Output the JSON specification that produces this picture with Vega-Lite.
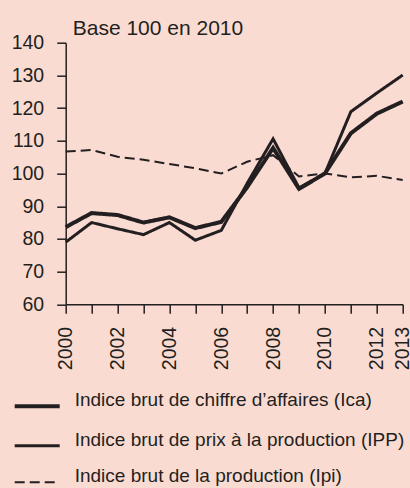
{
  "$schema": "https://vega.github.io/schema/vega-lite/v6.json",
  "autosize": {"type": "none"},
  "width": 337,
  "height": 261.6,
  "padding": {"left": 65.7, "top": 42.7, "right": 7.3, "bottom": 183.7},
  "background": "#fadbd2",
  "title": {
    "text": "Base 100 en 2010",
    "anchor": "start",
    "frame": "group",
    "dx": 7,
    "offset": -6,
    "font": "Liberation Sans",
    "fontSize": 21,
    "fontWeight": "normal",
    "color": "#231f20"
  },
  "data": {
    "values": [
      {"annee": 2000, "serie": "Indice brut de chiffre d’affaires (Ica)", "valeur": 83.6},
      {"annee": 2001, "serie": "Indice brut de chiffre d’affaires (Ica)", "valeur": 87.9},
      {"annee": 2002, "serie": "Indice brut de chiffre d’affaires (Ica)", "valeur": 87.3},
      {"annee": 2003, "serie": "Indice brut de chiffre d’affaires (Ica)", "valeur": 85.0},
      {"annee": 2004, "serie": "Indice brut de chiffre d’affaires (Ica)", "valeur": 86.6},
      {"annee": 2005, "serie": "Indice brut de chiffre d’affaires (Ica)", "valeur": 83.3},
      {"annee": 2006, "serie": "Indice brut de chiffre d’affaires (Ica)", "valeur": 85.2},
      {"annee": 2007, "serie": "Indice brut de chiffre d’affaires (Ica)", "valeur": 95.8},
      {"annee": 2008, "serie": "Indice brut de chiffre d’affaires (Ica)", "valeur": 107.8},
      {"annee": 2009, "serie": "Indice brut de chiffre d’affaires (Ica)", "valeur": 95.3},
      {"annee": 2010, "serie": "Indice brut de chiffre d’affaires (Ica)", "valeur": 100.0},
      {"annee": 2011, "serie": "Indice brut de chiffre d’affaires (Ica)", "valeur": 112.3},
      {"annee": 2012, "serie": "Indice brut de chiffre d’affaires (Ica)", "valeur": 118.3},
      {"annee": 2013, "serie": "Indice brut de chiffre d’affaires (Ica)", "valeur": 122.0},
      {"annee": 2000, "serie": "Indice brut de prix à la production (IPP)", "valeur": 79.0},
      {"annee": 2001, "serie": "Indice brut de prix à la production (IPP)", "valeur": 85.0},
      {"annee": 2002, "serie": "Indice brut de prix à la production (IPP)", "valeur": 83.1},
      {"annee": 2003, "serie": "Indice brut de prix à la production (IPP)", "valeur": 81.3},
      {"annee": 2004, "serie": "Indice brut de prix à la production (IPP)", "valeur": 85.0},
      {"annee": 2005, "serie": "Indice brut de prix à la production (IPP)", "valeur": 79.6},
      {"annee": 2006, "serie": "Indice brut de prix à la production (IPP)", "valeur": 82.6},
      {"annee": 2007, "serie": "Indice brut de prix à la production (IPP)", "valeur": 97.0},
      {"annee": 2008, "serie": "Indice brut de prix à la production (IPP)", "valeur": 110.6},
      {"annee": 2009, "serie": "Indice brut de prix à la production (IPP)", "valeur": 95.6},
      {"annee": 2010, "serie": "Indice brut de prix à la production (IPP)", "valeur": 100.0},
      {"annee": 2011, "serie": "Indice brut de prix à la production (IPP)", "valeur": 118.9},
      {"annee": 2012, "serie": "Indice brut de prix à la production (IPP)", "valeur": 124.6},
      {"annee": 2013, "serie": "Indice brut de prix à la production (IPP)", "valeur": 130.1},
      {"annee": 2000, "serie": "Indice brut de la production (Ipi)", "valeur": 106.7},
      {"annee": 2001, "serie": "Indice brut de la production (Ipi)", "valeur": 107.2},
      {"annee": 2002, "serie": "Indice brut de la production (Ipi)", "valeur": 105.1},
      {"annee": 2003, "serie": "Indice brut de la production (Ipi)", "valeur": 104.2},
      {"annee": 2004, "serie": "Indice brut de la production (Ipi)", "valeur": 102.9},
      {"annee": 2005, "serie": "Indice brut de la production (Ipi)", "valeur": 101.6},
      {"annee": 2006, "serie": "Indice brut de la production (Ipi)", "valeur": 100.0},
      {"annee": 2007, "serie": "Indice brut de la production (Ipi)", "valeur": 103.6},
      {"annee": 2008, "serie": "Indice brut de la production (Ipi)", "valeur": 105.6},
      {"annee": 2009, "serie": "Indice brut de la production (Ipi)", "valeur": 99.1},
      {"annee": 2010, "serie": "Indice brut de la production (Ipi)", "valeur": 100.0},
      {"annee": 2011, "serie": "Indice brut de la production (Ipi)", "valeur": 98.8},
      {"annee": 2012, "serie": "Indice brut de la production (Ipi)", "valeur": 99.3},
      {"annee": 2013, "serie": "Indice brut de la production (Ipi)", "valeur": 98.0}
    ]
  },
  "mark": {"type": "line", "strokeJoin": "miter", "strokeCap": "butt", "clip": false},
  "encoding": {
    "x": {
      "field": "annee",
      "type": "quantitative",
      "scale": {"domain": [2000, 2013], "nice": false, "zero": false},
      "axis": {
        "title": null,
        "values": [2000, 2001, 2002, 2003, 2004, 2005, 2006, 2007, 2008, 2009, 2010, 2011, 2012, 2013],
        "format": "d",
        "labelExpr": "(datum.value % 2 == 0 || datum.value == 2013) ? datum.label : ''",
        "labelAngle": -90,
        "labelAlign": "right",
        "labelBaseline": "middle",
        "labelOverlap": false,
        "labelPadding": 13,
        "labelFlush": false,
        "grid": false
      }
    },
    "y": {
      "field": "valeur",
      "type": "quantitative",
      "scale": {"domain": [60, 140], "nice": false, "zero": false},
      "axis": {
        "title": null,
        "values": [60, 70, 80, 90, 100, 110, 120, 130, 140],
        "labelPadding": 13,
        "labelFlush": false,
        "labelOverlap": false,
        "grid": false
      }
    },
    "stroke": {
      "field": "serie",
      "type": "nominal",
      "scale": {
        "domain": ["Indice brut de chiffre d’affaires (Ica)", "Indice brut de prix à la production (IPP)", "Indice brut de la production (Ipi)"],
        "range": ["#231f20", "#231f20", "#231f20"]
      },
      "legend": {"title": null}
    },
    "strokeWidth": {
      "field": "serie",
      "type": "nominal",
      "scale": {
        "domain": ["Indice brut de chiffre d’affaires (Ica)", "Indice brut de prix à la production (IPP)", "Indice brut de la production (Ipi)"],
        "range": [4, 2, 2.5]
      },
      "legend": {"title": null}
    },
    "strokeDash": {
      "field": "serie",
      "type": "nominal",
      "scale": {
        "domain": ["Indice brut de chiffre d’affaires (Ica)", "Indice brut de prix à la production (IPP)", "Indice brut de la production (Ipi)"],
        "range": [[1, 0], [1, 0], [10, 5]]
      },
      "legend": {"title": null}
    }
  },
  "config": {
    "view": {"stroke": null},
    "font": "Liberation Sans",
    "axis": {
      "domainColor": "#231f20",
      "domainWidth": 1.5,
      "tickColor": "#231f20",
      "tickWidth": 1.5,
      "tickSize": 9,
      "labelColor": "#231f20",
      "labelFont": "Liberation Sans",
      "labelFontSize": 19.5
    },
    "legend": {
      "orient": "none",
      "legendX": -53,
      "legendY": 339,
      "direction": "vertical",
      "padding": 0,
      "symbolType": "stroke",
      "symbolSize": 2025,
      "symbolStrokeColor": "#231f20",
      "rowPadding": 7,
      "labelOffset": 13,
      "labelBaseline": "alphabetic",
      "labelFont": "Liberation Sans",
      "labelFontSize": 19,
      "labelColor": "#231f20",
      "labelLimit": 400
    }
  }
}
